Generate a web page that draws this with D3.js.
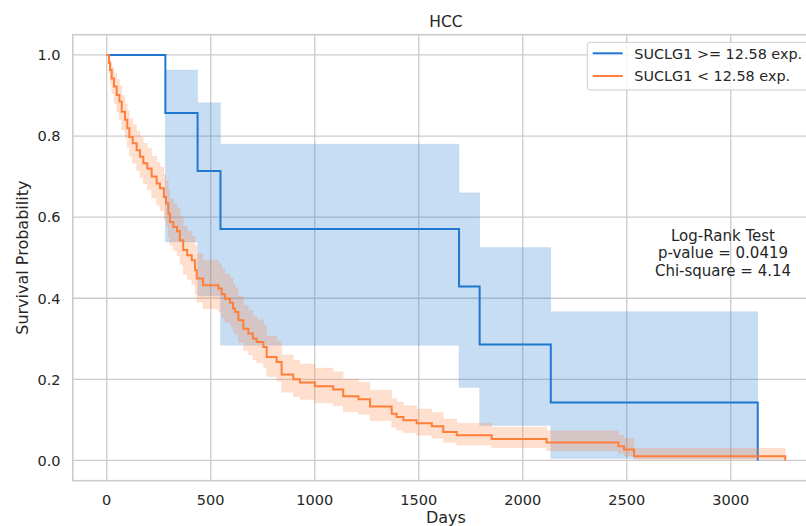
<!DOCTYPE html>
<html>
<head>
<meta charset="utf-8">
<script src="https://cdn.jsdelivr.net/npm/d3@7"></script>
<style>
  html, body { margin: 0; padding: 0; background: #ffffff; }
  svg { display: block; }
  text { font-family: "DejaVu Sans", sans-serif; fill: #262626; }
</style>
</head>
<body>
<svg id="chart" width="806" height="526"></svg>
<script>
// ---- data ----
const chartTitle = "HCC";
const xLabel = "Days";
const yLabel = "Survival Probability";
const xTicks = [0, 500, 1000, 1500, 2000, 2500, 3000];
const yTicks = [0.0, 0.2, 0.4, 0.6, 0.8, 1.0];
const seriesNames = ["SUCLG1 >= 12.58 exp.", "SUCLG1 < 12.58 exp."];
const annotationLines = ["Log-Rank Test", "p-value = 0.0419", "Chi-square = 4.14"];

// high-expression group (step function, value after each time)
const highTimes = [0, 282, 437, 547, 1694, 1793, 2135, 3130];
const highSurv  = [1, 0.857, 0.714, 0.571, 0.429, 0.286, 0.143, 0];
const highUpper = [1, 0.963, 0.882, 0.780, 0.660, 0.525, 0.367, 0.367];
const highLower = [1, 0.539, 0.406, 0.284, 0.180, 0.086, 0.005, 0.005];

// low-expression group
const lowTimes = [0, 11, 16, 24, 35, 48, 61, 72, 88, 99, 109, 125, 144, 160, 176, 195, 216, 240, 256, 275,
  285, 296, 304, 320, 338, 352, 368, 387, 409, 425, 433, 463, 537, 553, 569, 593, 607, 617, 633, 657,
  681, 703, 721, 753, 769, 817, 841, 897, 929, 1001, 1089, 1137, 1210, 1266, 1370, 1394, 1426, 1490, 1563, 1618,
  1683, 1851, 2115, 2460, 2487, 2535, 3262];
const lowSurv = [1, 0.980, 0.963, 0.942, 0.922, 0.901, 0.885, 0.860, 0.840, 0.819, 0.798, 0.782, 0.765, 0.749, 0.733, 0.720, 0.700, 0.683, 0.671, 0.650,
  0.634, 0.609, 0.588, 0.576, 0.565, 0.543, 0.519, 0.506, 0.494, 0.469, 0.449, 0.432, 0.424, 0.410, 0.399, 0.389, 0.375, 0.366, 0.346, 0.325,
  0.313, 0.300, 0.292, 0.280, 0.255, 0.243, 0.212, 0.200, 0.192, 0.183, 0.175, 0.158, 0.151, 0.133, 0.115, 0.107, 0.099, 0.092, 0.084, 0.070,
  0.062, 0.053, 0.044, 0.035, 0.027, 0.010, 0.0];
const lowUpper = [1, 0.995, 0.985, 0.970, 0.955, 0.940, 0.925, 0.900, 0.880, 0.862, 0.843, 0.828, 0.812, 0.797, 0.782, 0.770, 0.751, 0.735, 0.724, 0.704,
  0.689, 0.665, 0.645, 0.633, 0.622, 0.601, 0.578, 0.565, 0.553, 0.529, 0.510, 0.494, 0.486, 0.472, 0.460, 0.450, 0.436, 0.426, 0.405, 0.383,
  0.370, 0.355, 0.347, 0.334, 0.307, 0.294, 0.260, 0.247, 0.238, 0.228, 0.219, 0.200, 0.193, 0.173, 0.153, 0.144, 0.135, 0.127, 0.118, 0.102,
  0.092, 0.082, 0.073, 0.062, 0.054, 0.030, 0.030];
const lowLower = [1, 0.955, 0.930, 0.905, 0.880, 0.860, 0.840, 0.815, 0.795, 0.772, 0.750, 0.733, 0.715, 0.698, 0.682, 0.668, 0.647, 0.629, 0.616, 0.594,
  0.577, 0.551, 0.530, 0.517, 0.505, 0.483, 0.459, 0.446, 0.434, 0.410, 0.390, 0.374, 0.366, 0.352, 0.341, 0.332, 0.318, 0.310, 0.291, 0.271,
  0.260, 0.248, 0.241, 0.230, 0.207, 0.196, 0.168, 0.157, 0.150, 0.142, 0.135, 0.120, 0.114, 0.098, 0.082, 0.075, 0.068, 0.062, 0.055, 0.044,
  0.038, 0.031, 0.024, 0.017, 0.011, 0.002, 0.002];

const colors = ["#1f77d0", "#ff7f3a"];

// ---- layout ----
const svg = d3.select("#chart");
const x = d3.scaleLinear().domain([-163, 3425]).range([72.8, 819.1]);
const y = d3.scaleLinear().domain([-0.05, 1.05]).range([480.7, 34.7]);
const plotL = 72.8, plotR = 819.1, plotT = 34.7, plotB = 480.7;

// grid
const grid = svg.append("g");
grid.selectAll("line.gx").data(xTicks).join("line")
  .attr("x1", d => x(d)).attr("x2", d => x(d))
  .attr("y1", plotT).attr("y2", plotB)
  .attr("stroke", "#cccccc").attr("stroke-width", 1.3);
grid.selectAll("line.gy").data(yTicks).join("line")
  .attr("x1", plotL).attr("x2", plotR)
  .attr("y1", d => y(d)).attr("y2", d => y(d))
  .attr("stroke", "#cccccc").attr("stroke-width", 1.3);

// spines
svg.append("rect")
  .attr("x", plotL).attr("y", plotT)
  .attr("width", plotR - plotL).attr("height", plotB - plotT)
  .attr("fill", "none").attr("stroke", "#cccccc").attr("stroke-width", 1.6);

// series
function build(times, surv, upper, lower) {
  return times.map((t, i) => ({ t, s: surv[i], u: upper[i], l: lower[i] }));
}
const groups = [
  build(highTimes, highSurv, highUpper, highLower),
  build(lowTimes, lowSurv, lowUpper, lowLower)
];

const area = d3.area().curve(d3.curveStepAfter)
  .x(d => x(d.t)).y0(d => y(d.l)).y1(d => y(d.u));
const line = d3.line().curve(d3.curveStepAfter)
  .x(d => x(d.t)).y(d => y(d.s));

const plot = svg.append("g");
groups.forEach((g, i) => {
  plot.append("path").attr("d", area(g))
    .attr("fill", colors[i]).attr("fill-opacity", 0.25)
    .attr("stroke", colors[i]).attr("stroke-opacity", 0.08).attr("stroke-width", 1);
  plot.append("path").attr("d", line(g))
    .attr("fill", "none").attr("stroke", colors[i]).attr("stroke-width", 2);
});

// tick labels
svg.append("g").selectAll("text").data(xTicks).join("text")
  .attr("x", d => x(d)).attr("y", 505)
  .attr("text-anchor", "middle").attr("font-size", 14.5)
  .text(d => d3.format("d")(d));
svg.append("g").selectAll("text").data(yTicks).join("text")
  .attr("x", 60.5).attr("y", d => y(d) + 5.3)
  .attr("text-anchor", "end").attr("font-size", 14.5)
  .text(d => d3.format(".1f")(d));

// axis labels & title
svg.append("text").attr("x", (plotL + plotR) / 2).attr("y", 522.5)
  .attr("text-anchor", "middle").attr("font-size", 16).text(xLabel);
svg.append("text")
  .attr("transform", `translate(28,${(plotT + plotB) / 2}) rotate(-90)`)
  .attr("text-anchor", "middle").attr("font-size", 16).text(yLabel);
svg.append("text").attr("x", (plotL + plotR) / 2).attr("y", 26.5)
  .attr("text-anchor", "middle").attr("font-size", 15.5).text(chartTitle);

// annotation
svg.append("g").selectAll("text").data(annotationLines).join("text")
  .attr("x", 723).attr("y", (d, i) => 240.8 + i * 17.6)
  .attr("text-anchor", "middle").attr("font-size", 15).text(d => d);

// legend
const leg = svg.append("g");
leg.append("rect").attr("x", 587.3).attr("y", 42.3).attr("width", 225).attr("height", 47.7)
  .attr("rx", 3).attr("fill", "#ffffff").attr("fill-opacity", 0.8)
  .attr("stroke", "#cccccc").attr("stroke-width", 1);
seriesNames.forEach((name, i) => {
  const cy = 53.3 + i * 22.7;
  leg.append("line").attr("x1", 592.7).attr("x2", 622.7).attr("y1", cy).attr("y2", cy)
    .attr("stroke", colors[i]).attr("stroke-width", 2);
  leg.append("text").attr("x", 634.3).attr("y", cy + 5.3)
    .attr("font-size", 14.4).text(name);
});
</script>
</body>
</html>
